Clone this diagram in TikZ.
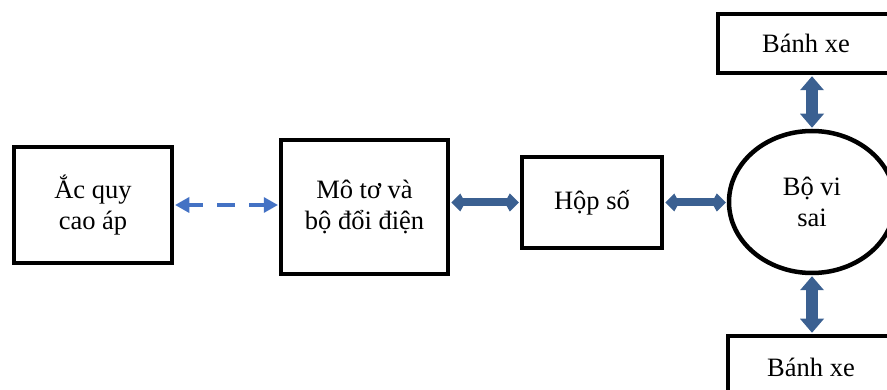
\documentclass[tikz,border=0pt]{standalone}
\usepackage{fontspec}
\setmainfont{Liberation Serif}
\usetikzlibrary{arrows.meta,shapes.geometric}
\definecolor{lightblue}{HTML}{4472C4}
\definecolor{darkblue}{HTML}{3B6091}
\begin{document}
\begin{tikzpicture}[x=1pt,y=-1pt,
  box/.style={draw=black,line width=4.5pt,fill=white,inner sep=0pt,align=center,
    font=\fontsize{26.5}{31}\selectfont},
  dashconn/.style={draw=lightblue,line width=4pt,dash pattern=on 18pt off 14pt,dash phase=4pt,
    {Triangle[length=14pt,width=16pt,line width=0pt]}-{Triangle[length=14pt,width=16pt,line width=0pt]},shorten <=1pt,shorten >=1pt},
  hconn/.style={draw=darkblue,line width=8pt,
    {Kite[length=14pt,width=18pt,inset=5pt,line width=0pt]}-{Kite[length=14pt,width=18pt,inset=5pt,line width=0pt]},shorten <=1pt,shorten >=1pt},
  vconn/.style={draw=darkblue,line width=12pt,
    {Triangle[length=14pt,width=24pt,line width=0pt]}-{Triangle[length=14pt,width=24pt,line width=0pt]},shorten <=1pt,shorten >=1pt}]
\useasboundingbox (0,0) rectangle (887,390);
\node[box,minimum width=158pt,minimum height=116pt] (acquy) at (93,205) {Ắc quy\\cao áp};
\node[box,minimum width=167pt,minimum height=134pt] (moto) at (364.5,207) {Mô tơ và\\bộ đổi điện};
\node[box,minimum width=140pt,minimum height=91pt] (hopso) at (592,202.5) {Hộp số};
\node[box,ellipse,minimum width=166pt,minimum height=142pt] (visai) at (812,202) {Bộ vi\\sai};
\node[box,minimum width=176pt,minimum height=59pt] (banh1) at (806,43.5) {Bánh xe};
\node[box,minimum width=166pt,minimum height=63pt] (banh2) at (811,367.5) {Bánh xe};
\draw[dashconn] (acquy.east) -- (moto.west |- acquy.east);
\draw[hconn] (moto.east |- hopso.west) -- (hopso.west);
\draw[hconn] (hopso.east) -- (visai.west |- hopso.east);
\draw[vconn] (banh1.south -| visai.north) -- (visai.north);
\draw[vconn] (visai.south) -- (banh2.north -| visai.south);
\end{tikzpicture}
\end{document}
